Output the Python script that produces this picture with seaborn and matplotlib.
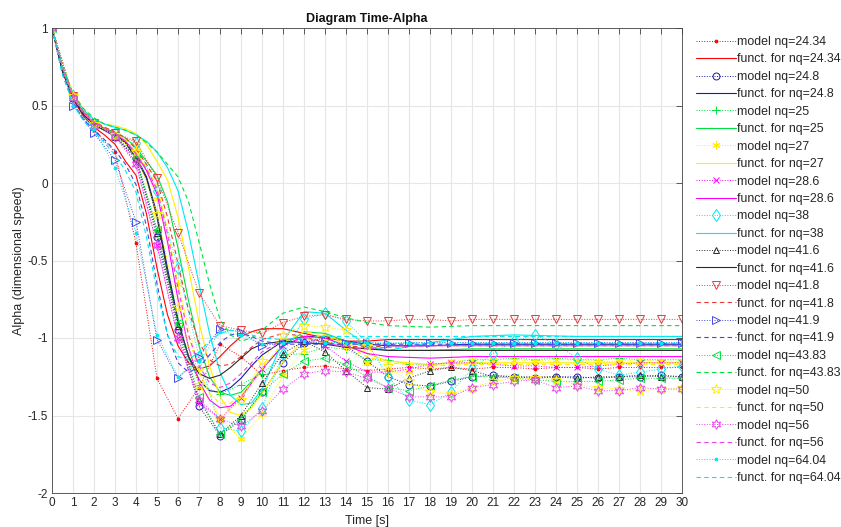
import matplotlib
matplotlib.use("Agg")
import matplotlib.pyplot as plt
import seaborn as sns
import pandas as pd

# ---------------- data ----------------
t_model = list(range(31))
t_func = [0, 0.5, 1, 1.5, 2, 2.5, 3, 3.5, 4, 4.5, 5, 5.5, 6, 6.5, 7, 7.5, 8, 8.5,
          9, 9.5, 10, 11, 12, 13, 14, 15, 16, 18, 20, 22, 25, 30]

nq_labels = ["24.34", "24.8", "25", "27", "28.6", "38", "41.6", "41.8", "41.9",
             "43.83", "50", "56", "64.04"]

model_24_34 = [1.00, 0.50, 0.34, 0.20, -0.39, -1.26, -1.52, -1.32, -1.04, -1.12, -1.24,
               -1.21, -1.19, -1.18, -1.20, -1.21, -1.20, -1.19, -1.20, -1.19, -1.20,
               -1.19, -1.19, -1.20, -1.19, -1.19, -1.20, -1.19, -1.19, -1.19, -1.19]
model_24_8 = [1.00, 0.55, 0.38, 0.30, 0.16, -0.35, -0.95, -1.44, -1.63, -1.53, -1.35,
              -1.16, -1.03, -1.00, -1.05, -1.15, -1.25, -1.30, -1.31, -1.28, -1.25,
              -1.24, -1.25, -1.26, -1.25, -1.25, -1.26, -1.25, -1.25, -1.24, -1.25]
model_25 = [1.00, 0.56, 0.38, 0.31, 0.17, -0.30, -0.90, -1.30, -1.36, -1.30, -1.23,
            -1.11, -1.10, -1.06, -1.07, -1.14, -1.14, -1.17, -1.17, -1.16, -1.14,
            -1.14, -1.13, -1.14, -1.13, -1.14, -1.14, -1.13, -1.14, -1.14, -1.14]
model_27 = [1.00, 0.57, 0.39, 0.32, 0.24, -0.10, -0.65, -1.20, -1.52, -1.65, -1.49,
            -1.24, -1.08, -1.02, -1.06, -1.16, -1.22, -1.22, -1.18, -1.15, -1.14,
            -1.14, -1.14, -1.15, -1.14, -1.14, -1.15, -1.15, -1.14, -1.15, -1.15]
model_28_6 = [1.00, 0.55, 0.37, 0.31, 0.13, -0.40, -1.00, -1.42, -1.52, -1.39, -1.20,
              -1.05, -1.00, -1.05, -1.15, -1.22, -1.22, -1.20, -1.17, -1.16, -1.16,
              -1.17, -1.18, -1.18, -1.19, -1.19, -1.18, -1.17, -1.16, -1.16, -1.16]
model_38 = [1.00, 0.56, 0.38, 0.32, 0.26, -0.05, -0.55, -1.12, -1.58, -1.60, -1.45,
            -1.10, -0.88, -0.84, -0.89, -1.03, -1.25, -1.40, -1.43, -1.35, -1.20,
            -1.10, -1.02, -0.98, -1.04, -1.13, -1.20, -1.24, -1.22, -1.20, -1.18]
model_41_6 = [1.00, 0.55, 0.38, 0.30, 0.16, -0.32, -0.92, -1.40, -1.62, -1.50, -1.29,
              -1.10, -1.02, -1.09, -1.21, -1.32, -1.33, -1.26, -1.21, -1.19, -1.21,
              -1.25, -1.25, -1.25, -1.25, -1.26, -1.25, -1.25, -1.24, -1.25, -1.25]
model_41_8 = [1.00, 0.56, 0.39, 0.32, 0.27, 0.03, -0.32, -0.71, -0.92, -0.95, -0.97,
              -0.90, -0.86, -0.85, -0.88, -0.89, -0.89, -0.88, -0.88, -0.89, -0.88,
              -0.88, -0.88, -0.88, -0.88, -0.88, -0.88, -0.88, -0.88, -0.88, -0.88]
model_41_9 = [1.00, 0.50, 0.32, 0.15, -0.25, -1.01, -1.26, -1.12, -0.94, -0.96, -1.05,
              -1.03, -1.03, -1.03, -1.03, -1.03, -1.04, -1.03, -1.03, -1.03, -1.03,
              -1.03, -1.03, -1.03, -1.03, -1.03, -1.03, -1.03, -1.03, -1.03, -1.03]
model_43_83 = [1.00, 0.55, 0.38, 0.31, 0.16, -0.30, -0.90, -1.38, -1.62, -1.52, -1.35,
               -1.23, -1.15, -1.13, -1.17, -1.25, -1.32, -1.34, -1.31, -1.27, -1.25,
               -1.25, -1.26, -1.27, -1.28, -1.28, -1.28, -1.27, -1.26, -1.26, -1.26]
model_50 = [1.00, 0.56, 0.38, 0.31, 0.20, -0.20, -0.80, -1.30, -1.52, -1.40, -1.15,
            -0.98, -0.92, -0.93, -0.95, -1.05, -1.18, -1.28, -1.35, -1.36, -1.32,
            -1.28, -1.26, -1.26, -1.27, -1.30, -1.32, -1.33, -1.34, -1.33, -1.32]
model_56 = [1.00, 0.55, 0.37, 0.30, 0.12, -0.40, -1.00, -1.40, -1.52, -1.57, -1.47,
            -1.33, -1.23, -1.21, -1.22, -1.26, -1.32, -1.38, -1.38, -1.38, -1.32,
            -1.30, -1.28, -1.27, -1.32, -1.31, -1.34, -1.34, -1.32, -1.33, -1.33]
model_64_04 = [1.00, 0.50, 0.35, 0.10, -0.32, -0.98, -1.25, -1.15, -0.96, -0.98, -1.04,
               -1.03, -1.02, -1.03, -1.03, -1.03, -1.03, -1.03, -1.03, -1.03, -1.03,
               -1.03, -1.03, -1.03, -1.03, -1.03, -1.03, -1.03, -1.03, -1.03, -1.03]

func_24_34 = [1.00, 0.72, 0.54, 0.43, 0.36, 0.31, 0.25, 0.14, 0.05, -0.20,
              -0.55, -0.85, -1.05, -1.16, -1.20, -1.18, -1.12, -1.05, -0.99, -0.96,
              -0.94, -0.94, -0.97, -1.00, -1.02, -1.02, -1.01, -1.01, -1.01, -1.01, -1.01, -1.01]
func_24_8 = [1.00, 0.72, 0.55, 0.44, 0.38, 0.34, 0.31, 0.26, 0.17, 0.04,
             -0.20, -0.55, -0.88, -1.12, -1.27, -1.34, -1.35, -1.32, -1.26, -1.18,
             -1.11, -1.02, -0.99, -0.99, -1.02, -1.04, -1.05, -1.05, -1.04, -1.04, -1.04, -1.04]
func_25 = [1.00, 0.73, 0.56, 0.45, 0.39, 0.35, 0.33, 0.29, 0.23, 0.14,
           0.05, -0.12, -0.42, -0.76, -1.05, -1.25, -1.35, -1.37, -1.35, -1.28,
           -1.20, -1.05, -0.96, -0.97, -1.02, -1.06, -1.08, -1.08, -1.07, -1.07, -1.07, -1.07]
func_27 = [1.00, 0.74, 0.57, 0.47, 0.41, 0.38, 0.37, 0.35, 0.32, 0.25,
           0.14, 0.02, -0.22, -0.55, -0.90, -1.18, -1.38, -1.48, -1.50, -1.45,
           -1.36, -1.15, -1.01, -0.98, -1.03, -1.10, -1.15, -1.17, -1.16, -1.16, -1.16, -1.16]
func_28_6 = [1.00, 0.73, 0.56, 0.45, 0.39, 0.35, 0.32, 0.27, 0.19, 0.08,
             -0.07, -0.38, -0.75, -1.06, -1.28, -1.40, -1.45, -1.44, -1.38, -1.29,
             -1.20, -1.05, -0.99, -1.00, -1.05, -1.10, -1.12, -1.13, -1.12, -1.12, -1.12, -1.12]
func_38 = [1.00, 0.74, 0.57, 0.47, 0.41, 0.38, 0.36, 0.34, 0.31, 0.27,
           0.20, 0.10, -0.05, -0.32, -0.65, -0.97, -1.22, -1.37, -1.43, -1.42,
           -1.33, -1.02, -0.83, -0.84, -0.95, -1.05, -1.08, -1.03, -0.99, -0.98, -0.99, -0.99]
func_41_6 = [1.00, 0.72, 0.55, 0.44, 0.38, 0.34, 0.31, 0.26, 0.16, 0.03,
             -0.22, -0.58, -0.90, -1.12, -1.23, -1.26, -1.24, -1.19, -1.13, -1.07,
             -1.04, -1.02, -1.03, -1.04, -1.06, -1.07, -1.08, -1.08, -1.08, -1.08, -1.08, -1.08]
func_41_8 = [1.00, 0.74, 0.57, 0.46, 0.40, 0.36, 0.33, 0.29, 0.22, 0.12,
             0.01, -0.22, -0.52, -0.82, -1.03, -1.14, -1.18, -1.17, -1.12, -1.06,
             -1.01, -0.97, -0.99, -1.03, -1.05, -1.06, -1.05, -1.05, -1.05, -1.05, -1.05, -1.05]
func_41_9 = [1.00, 0.70, 0.52, 0.41, 0.34, 0.28, 0.21, 0.12, -0.01, -0.28,
             -0.65, -0.98, -1.16, -1.22, -1.19, -1.11, -1.03, -0.98, -0.97, -0.99,
             -1.02, -1.04, -1.04, -1.04, -1.04, -1.04, -1.04, -1.04, -1.04, -1.04, -1.04, -1.04]
func_43_83 = [1.00, 0.75, 0.58, 0.48, 0.42, 0.38, 0.36, 0.34, 0.31, 0.26,
              0.20, 0.12, 0.04, -0.12, -0.38, -0.65, -0.88, -0.98, -1.02, -1.00,
              -0.95, -0.84, -0.80, -0.83, -0.87, -0.90, -0.92, -0.93, -0.92, -0.92, -0.92, -0.92]
func_50 = [1.00, 0.73, 0.56, 0.45, 0.39, 0.35, 0.32, 0.28, 0.20, 0.10,
           -0.02, -0.30, -0.65, -0.98, -1.22, -1.36, -1.42, -1.42, -1.37, -1.29,
           -1.20, -1.03, -0.96, -0.98, -1.05, -1.12, -1.16, -1.18, -1.17, -1.17, -1.17, -1.17]
func_56 = [1.00, 0.73, 0.56, 0.45, 0.39, 0.35, 0.32, 0.27, 0.19, 0.09,
           -0.04, -0.33, -0.68, -0.98, -1.18, -1.29, -1.32, -1.29, -1.23, -1.16,
           -1.09, -1.01, -1.00, -1.03, -1.06, -1.07, -1.06, -1.05, -1.05, -1.05, -1.05, -1.05]
func_64_04 = [1.00, 0.70, 0.51, 0.40, 0.33, 0.26, 0.18, 0.08, -0.06, -0.35,
              -0.70, -0.98, -1.12, -1.14, -1.09, -1.02, -0.97, -0.95, -0.96, -0.98,
              -1.00, -1.01, -1.00, -0.99, -0.99, -0.99, -0.99, -0.99, -0.99, -0.99, -0.99, -0.99]

x_ticks = list(range(0, 31))
y_ticks = [-2, -1.5, -1, -0.5, 0, 0.5, 1]
y_tick_labels = ["-2", "-1.5", "-1", "-0.5", "0", "0.5", "1"]

# ---------------- style ----------------
models = [model_24_34, model_24_8, model_25, model_27, model_28_6, model_38, model_41_6,
          model_41_8, model_41_9, model_43_83, model_50, model_56, model_64_04]
funcs = [func_24_34, func_24_8, func_25, func_27, func_28_6, func_38, func_41_6,
         func_41_8, func_41_9, func_43_83, func_50, func_56, func_64_04]
colors = ["#ff0000", "#1a1aa8", "#00e040", "#ffee00", "#ff00ff", "#00e8f0", "#2a2a2a",
          "#e83a3a", "#4646e6", "#00e040", "#ffee00", "#e646e6", "#00e8f0"]
markers = [".", "o", "+", (6, 2, 0), "x", "d", "^", "v", ">", "<", "*", (6, 1, 0), "."]
msizes = [4, 5, 6, 6, 5, 6, 5, 6, 6, 6, 7, 7, 4]
fstyles = ["-"] * 7 + [(0, (4, 3))] * 6

sns.set_theme(style="white")
plt.rcParams["font.family"] = ["Liberation Sans", "DejaVu Sans"]
plt.rcParams["axes.unicode_minus"] = False

fig = plt.figure(figsize=(8.41, 5.27), dpi=100)
ax = fig.add_axes([52 / 841, 34 / 527, 630 / 841, 465 / 527])

handles = []
for i, nq in enumerate(nq_labels):
    c = colors[i]
    m = markers[i]
    filled = m == "."
    dfm = pd.DataFrame({"t": t_model, "a": models[i]})
    sns.lineplot(data=dfm, x="t", y="a", ax=ax, color=c, linestyle=":", linewidth=0.7,
                 marker=m, markersize=msizes[i],
                 markerfacecolor=c if filled else "none", markeredgecolor=c,
                 markeredgewidth=0.7, label=f"model nq={nq}", sort=False,
                 estimator=None, legend=False)
    handles.append(ax.lines[-1])
    dff = pd.DataFrame({"t": t_func, "a": funcs[i]})
    sns.lineplot(data=dff, x="t", y="a", ax=ax, color=c, linestyle=fstyles[i],
                 linewidth=0.8, label=f"funct. for nq={nq}", sort=False,
                 estimator=None, legend=False)
    handles.append(ax.lines[-1])

ax.set_xlim(0, 30)
ax.set_ylim(-2, 1)
ax.set_xticks(x_ticks)
ax.set_xticklabels([str(v) for v in x_ticks])
ax.set_yticks(y_ticks)
ax.set_yticklabels(y_tick_labels)
ax.grid(True, color="#e6e6e6", linewidth=0.8)
ax.set_axisbelow(True)
ax.tick_params(direction="in", length=4, width=0.6, color="#444444",
               top=True, right=True, labelsize=8.5, pad=3, labelcolor="#262626")
for sp in ax.spines.values():
    sp.set_color("#444444")
    sp.set_linewidth(0.6)
    sp.set_visible(True)

ax.set_title("Diagram Time-Alpha", fontsize=9, fontweight="bold", pad=4, color="#111111")
ax.set_xlabel("Time [s]", fontsize=9, labelpad=4, color="#262626")
ax.set_ylabel("Alpha (dimensional speed)", fontsize=9, labelpad=2, color="#262626")

fig.legend(handles=handles, labels=[h.get_label() for h in handles],
           loc="upper left", bbox_to_anchor=(696 / 841, 1 - 36 / 527),
           frameon=False, fontsize=8.9, labelspacing=0.44, handlelength=3.2,
           handletextpad=0.1, borderaxespad=0, borderpad=0)

fig.savefig("out.png", dpi=100)
